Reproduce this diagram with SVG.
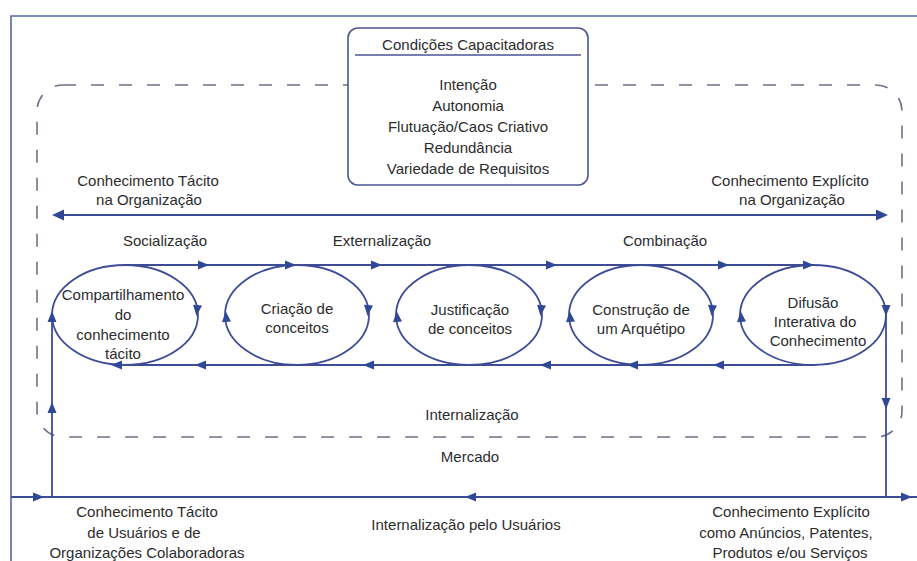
<svg xmlns="http://www.w3.org/2000/svg" xmlns:xlink="http://www.w3.org/1999/xlink" width="917" height="561" viewBox="0 0 917 561">
  <style>
    text { font-family: "Liberation Sans", Arial, sans-serif; font-size: 15px; fill: #2c2c2e; text-anchor: middle; }
    .frame { fill: none; stroke: #5c64a2; stroke-width: 1.6; }
    .dash { fill: none; stroke: #6e7288; stroke-width: 1.6; stroke-dasharray: 13 15; }
    .flow { fill: none; stroke: #3e4c98; stroke-width: 1.8; }
    .node { fill: none; stroke: #3e4c98; stroke-width: 1.8; }
    .box { fill: #ffffff; stroke: #4d5592; stroke-width: 1.6; }
    .head { fill: #2f4898; }
  </style>
  <defs>
    <path id="ah" class="head" d="M5,0 L-6,-4.5 L-6,4.5 Z"/>
    <path id="ahBig" class="head" d="M0,0 L12,-5.5 L12,5.5 Z"/>
  </defs>

  <rect width="917" height="561" fill="#ffffff"/>

  <!-- outer frame -->
  <g id="frame">
    <path class="frame" d="M11,561 V16 H917"/>
  </g>

  <!-- organisation boundary -->
  <g id="organizacao">
    <rect class="dash" x="37" y="85" width="865" height="352" rx="26" ry="26"/>
  </g>

  <!-- enabling conditions -->
  <g id="condicoes">
    <rect class="box" x="348" y="28" width="240" height="157" rx="10" ry="10"/>
    <line x1="355" y1="55" x2="581" y2="55" stroke="#4d5592" stroke-width="1.6"/>
    <text x="468" y="50">Condições Capacitadoras</text>
    <text x="468" y="90">Intenção</text>
    <text x="468" y="111">Autonomia</text>
    <text x="468" y="132">Flutuação/Caos Criativo</text>
    <text x="468" y="153">Redundância</text>
    <text x="468" y="174">Variedade de Requisitos</text>
  </g>

  <!-- five phases -->
  <g id="compartilhamento">
    <ellipse class="node" cx="125" cy="315" rx="73" ry="50"/>
    <text x="123" y="300">Compartilhamento</text>
    <text x="123" y="320">do</text>
    <text x="123" y="340">conhecimento</text>
    <text x="123" y="359">tácito</text>
  </g>
  <g id="criacao">
    <ellipse class="node" cx="297" cy="315" rx="72" ry="50"/>
    <text x="297" y="314">Criação de</text>
    <text x="297" y="333">conceitos</text>
  </g>
  <g id="justificacao">
    <ellipse class="node" cx="469" cy="315" rx="73" ry="50"/>
    <text x="470" y="315">Justificação</text>
    <text x="470" y="334">de conceitos</text>
  </g>
  <g id="arquetipo">
    <ellipse class="node" cx="641" cy="315" rx="72" ry="50"/>
    <text x="641" y="315">Construção de</text>
    <text x="641" y="334">um Arquétipo</text>
  </g>
  <g id="difusao">
    <ellipse class="node" cx="813" cy="315" rx="73" ry="50"/>
    <text x="813" y="308">Difusão</text>
    <text x="815" y="327">Interativa do</text>
    <text x="818" y="346">Conhecimento</text>
  </g>

  <!-- connectors -->
  <g id="connectors">
    <!-- tacit / explicit axis -->
    <line class="flow" x1="58" y1="215" x2="882" y2="215"/>
    <use xlink:href="#ahBig" transform="translate(52,215)"/>
    <use xlink:href="#ahBig" transform="translate(888,215) rotate(180)"/>

    <!-- upper and lower flows -->
    <line class="flow" x1="125" y1="265" x2="813" y2="265"/>
    <line class="flow" x1="813" y1="365" x2="125" y2="365"/>
    <!-- market loop -->
    <path class="flow" d="M886,315 V497"/>
    <path class="flow" d="M52,497 V315"/>
    <line class="flow" x1="11" y1="497" x2="917" y2="497"/>

    <!-- heads on upper flow -->
    <use xlink:href="#ah" transform="translate(204,265)"/>
    <use xlink:href="#ah" transform="translate(291,265)"/>
    <use xlink:href="#ah" transform="translate(377,265)"/>
    <use xlink:href="#ah" transform="translate(552,265)"/>
    <use xlink:href="#ah" transform="translate(724,265)"/>
    <use xlink:href="#ah" transform="translate(809,265)"/>

    <!-- heads on lower flow -->
    <use xlink:href="#ah" transform="translate(718,365) rotate(180)"/>
    <use xlink:href="#ah" transform="translate(632,365) rotate(180)"/>
    <use xlink:href="#ah" transform="translate(545,365) rotate(180)"/>
    <use xlink:href="#ah" transform="translate(368,365) rotate(180)"/>
    <use xlink:href="#ah" transform="translate(200,365) rotate(180)"/>
    <use xlink:href="#ah" transform="translate(116,365) rotate(180)"/>

    <!-- heads on the ellipses -->
    <use xlink:href="#ah" transform="translate(197,311) rotate(95)"/>
    <use xlink:href="#ah" transform="translate(368,311) rotate(95)"/>
    <use xlink:href="#ah" transform="translate(541,311) rotate(95)"/>
    <use xlink:href="#ah" transform="translate(712,311) rotate(95)"/>
    <use xlink:href="#ah" transform="translate(886,311) rotate(90)"/>
    <use xlink:href="#ah" transform="translate(52,316) rotate(-90)"/>
    <use xlink:href="#ah" transform="translate(226,316) rotate(-95)"/>
    <use xlink:href="#ah" transform="translate(397,316) rotate(-95)"/>
    <use xlink:href="#ah" transform="translate(570,316) rotate(-95)"/>
    <use xlink:href="#ah" transform="translate(741,316) rotate(-95)"/>

    <!-- heads on the market loop -->
    <use xlink:href="#ah" transform="translate(52,407) rotate(-90)"/>
    <use xlink:href="#ah" transform="translate(886,404) rotate(90)"/>
    <use xlink:href="#ah" transform="translate(39,497)"/>
    <use xlink:href="#ah" transform="translate(470,497) rotate(180)"/>
    <use xlink:href="#ah" transform="translate(907,497)"/>
  </g>

  <!-- labels -->
  <g id="labels">
    <text x="148" y="186">Conhecimento Tácito</text>
    <text x="149" y="205">na Organização</text>
    <text x="790" y="186">Conhecimento Explícito</text>
    <text x="792" y="205">na Organização</text>
    <text x="165" y="246">Socialização</text>
    <text x="382" y="246">Externalização</text>
    <text x="665" y="246">Combinação</text>
    <text x="472" y="420">Internalização</text>
    <text x="470" y="462">Mercado</text>
    <text x="147" y="517">Conhecimento Tácito</text>
    <text x="144" y="538">de Usuários e de</text>
    <text x="147" y="558">Organizações Colaboradoras</text>
    <text x="466" y="530">Internalização pelo Usuários</text>
    <text x="791" y="517">Conhecimento Explícito</text>
    <text x="786" y="538">como Anúncios, Patentes,</text>
    <text x="790" y="558">Produtos e/ou Serviços</text>
  </g>
</svg>
